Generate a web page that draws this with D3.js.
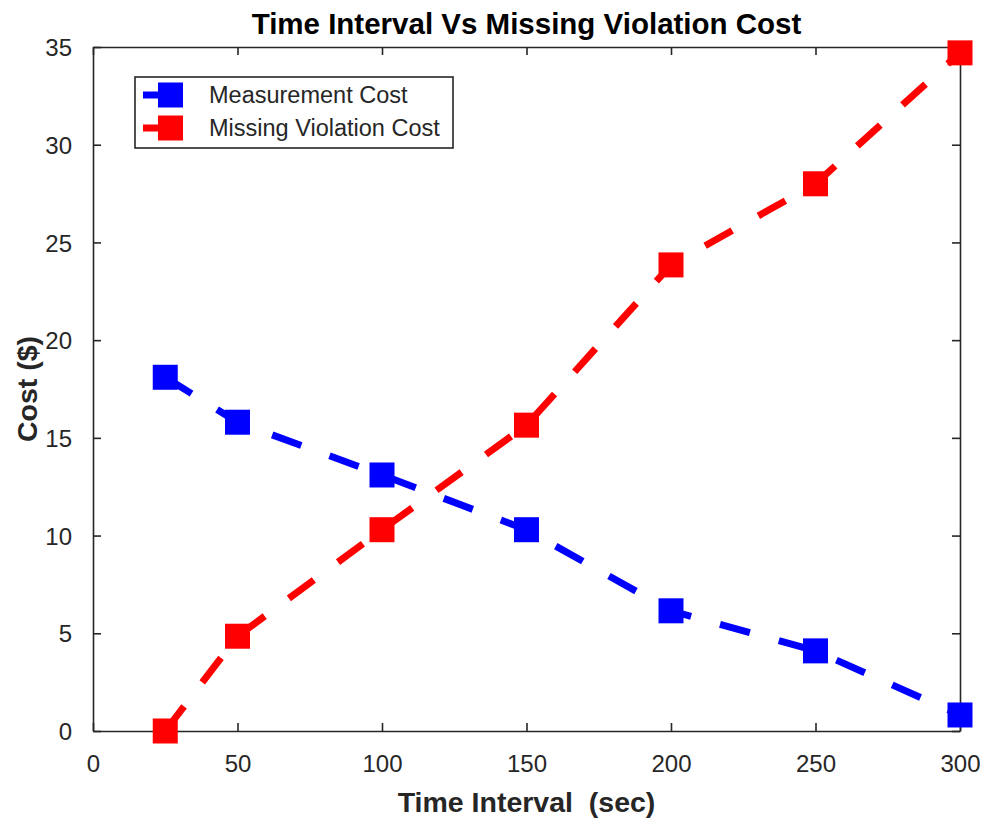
<!DOCTYPE html>
<html>
<head>
<meta charset="utf-8">
<script src="https://cdn.jsdelivr.net/npm/d3@7"></script>
<style>
  html, body { margin: 0; padding: 0; background: #fff; }
  svg { display: block; }
  text { font-family: "Liberation Sans", Arial, Helvetica, sans-serif; }
</style>
</head>
<body>
<svg id="chart" width="984" height="823"></svg>
<script>
// ---- data ----
const timeIntervals = [25, 50, 100, 150, 200, 250, 300];
const measurementCost = [18.1, 15.8, 13.1, 10.3, 6.15, 4.1, 0.82];
const missingViolationCost = [0.0, 4.85, 10.3, 15.65, 23.85, 28.0, 34.7];
const xTicks = [0, 50, 100, 150, 200, 250, 300];
const yTicks = [0, 5, 10, 15, 20, 25, 30, 35];
const seriesNames = ["Measurement Cost", "Missing Violation Cost"];
const seriesColors = ["#0000ff", "#ff0000"];
const titleText = "Time Interval Vs Missing Violation Cost";
const xLabelText = "Time Interval  (sec)";
const yLabelText = "Cost ($)";

// ---- layout ----
const W = 984, H = 823;
const plot = { left: 93, right: 960, top: 47, bottom: 731 };
const axisColor = "#262626";

const svg = d3.select("#chart");
svg.append("rect").attr("width", W).attr("height", H).attr("fill", "#fff");

const x = d3.scaleLinear().domain([0, 300]).range([plot.left, plot.right]);
const y = d3.scaleLinear().domain([0, 35]).range([plot.bottom, plot.top]);

const tickLen = 8;
const tickFont = 24;

// bottom axis
const gx = svg.append("g").attr("transform", `translate(0,${plot.bottom})`)
  .call(d3.axisBottom(x).tickValues(xTicks).tickSizeInner(-tickLen).tickSizeOuter(0).tickPadding(tickLen + 16));
// top axis (ticks only)
const gxt = svg.append("g").attr("transform", `translate(0,${plot.top})`)
  .call(d3.axisTop(x).tickValues(xTicks).tickSizeInner(-tickLen).tickSizeOuter(0).tickFormat(""));
// left axis
const gy = svg.append("g").attr("transform", `translate(${plot.left},0)`)
  .call(d3.axisLeft(y).tickValues(yTicks).tickSizeInner(-tickLen).tickSizeOuter(0).tickPadding(tickLen + 13));
// right axis (ticks only)
const gyr = svg.append("g").attr("transform", `translate(${plot.right},0)`)
  .call(d3.axisRight(y).tickValues(yTicks).tickSizeInner(-tickLen).tickSizeOuter(0).tickFormat(""));

[gx, gxt, gy, gyr].forEach(g => {
  g.select(".domain").attr("stroke", axisColor).attr("stroke-width", 1.6);
  g.selectAll(".tick line").attr("stroke", axisColor).attr("stroke-width", 1.6);
  g.selectAll(".tick text").attr("fill", axisColor).attr("font-size", tickFont)
    .style("font-family", '"Liberation Sans", Arial, sans-serif');
});
gx.selectAll(".tick text").attr("dy", "0.71em");
gy.selectAll(".tick text").attr("dy", "0.36em");

// title & labels
svg.append("text").attr("x", (plot.left + plot.right) / 2).attr("y", 34)
  .attr("text-anchor", "middle").attr("font-size", 29.5).attr("font-weight", "bold")
  .attr("fill", "#000").text(titleText);
svg.append("text").attr("x", (plot.left + plot.right) / 2).attr("y", 812)
  .attr("text-anchor", "middle").attr("font-size", 28.5).attr("font-weight", "bold")
  .attr("fill", axisColor).style("white-space", "pre").text(xLabelText);
svg.append("text").attr("transform", `translate(37,${(plot.top + plot.bottom) / 2}) rotate(-90)`)
  .attr("text-anchor", "middle").attr("font-size", 28.5).attr("font-weight", "bold")
  .attr("fill", axisColor).text(yLabelText);

// series
const series = [measurementCost, missingViolationCost];
const line = d3.line().x((d, i) => x(timeIntervals[i])).y(d => y(d));
const markerSize = 25;

series.forEach((vals, si) => {
  const g = svg.append("g");
  g.append("path").datum(vals).attr("d", line)
    .attr("fill", "none").attr("stroke", seriesColors[si]).attr("stroke-width", 7)
    .attr("stroke-dasharray", "31,30").attr("stroke-linecap", "butt");
  g.selectAll("rect").data(vals).join("rect")
    .attr("x", (d, i) => x(timeIntervals[i]) - markerSize / 2)
    .attr("y", d => y(d) - markerSize / 2)
    .attr("width", markerSize).attr("height", markerSize)
    .attr("fill", seriesColors[si]);
});

// legend
const lg = svg.append("g");
lg.append("rect").attr("x", 135).attr("y", 77).attr("width", 318).attr("height", 71)
  .attr("fill", "#fff").attr("stroke", axisColor).attr("stroke-width", 1.6);
const rowY = [95, 128];
seriesNames.forEach((name, i) => {
  lg.append("line").attr("x1", 143).attr("x2", 170).attr("y1", rowY[i]).attr("y2", rowY[i])
    .attr("stroke", seriesColors[i]).attr("stroke-width", 7);
  lg.append("rect").attr("x", 170 - 12).attr("y", rowY[i] - 12.5).attr("width", 25).attr("height", 25)
    .attr("fill", seriesColors[i]);
  lg.append("text").attr("x", 209).attr("y", rowY[i]).attr("dy", "0.36em")
    .attr("font-size", 23.5).attr("fill", axisColor).text(name);
});
</script>
</body>
</html>
